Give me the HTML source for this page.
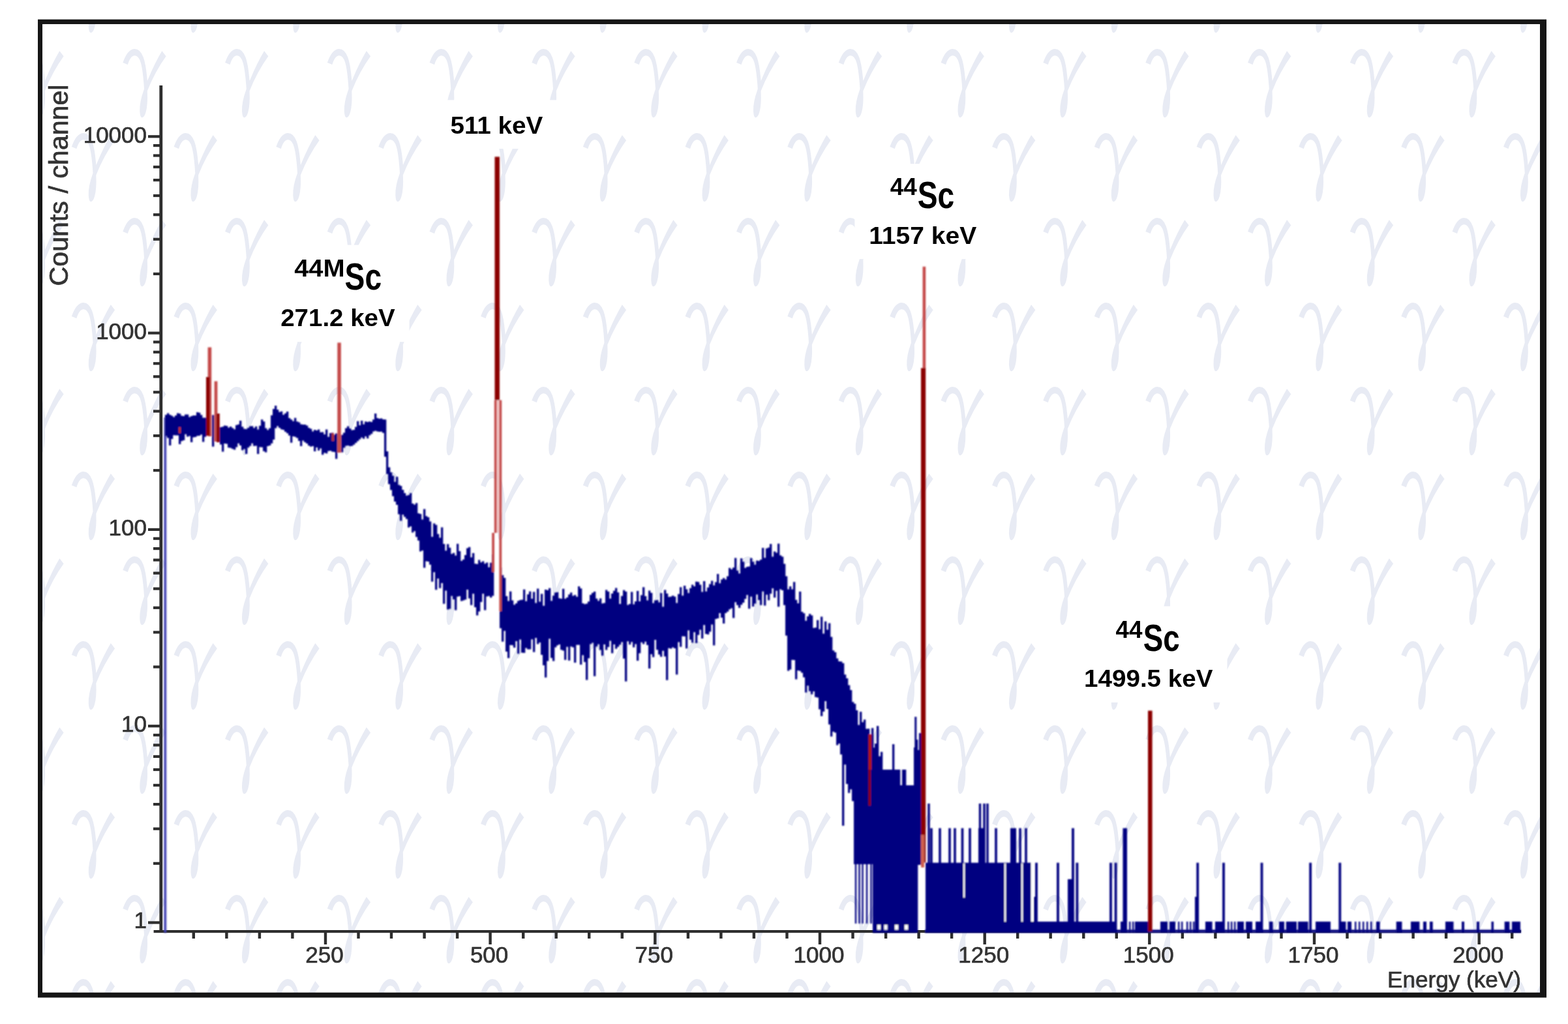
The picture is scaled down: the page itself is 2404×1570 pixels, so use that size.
<!DOCTYPE html>
<html lang="en"><head><meta charset="utf-8"><title>Gamma spectrum</title>
<style>
html,body{margin:0;padding:0;background:#fff;}
body{width:2404px;height:1570px;overflow:hidden;}
svg{display:block;}
</style></head><body>
<svg width="2404" height="1570" viewBox="0 0 2404 1570">
<defs><filter id="bl" filterUnits="userSpaceOnUse" x="0" y="0" width="2404" height="1570"><feGaussianBlur stdDeviation="1.3"/></filter><clipPath id="inner"><rect x="65" y="37" width="2296" height="1484.8"/></clipPath></defs>
<rect width="2404" height="1570" fill="#fff"/>
<g clip-path="url(#inner)" fill="#e8ebf4" stroke="#fff" stroke-width="2.8" font-family="IPAGothic,'DejaVu Serif',serif" font-size="169.8">
<text transform="translate(112.4 35.9) skewX(3.3) scale(0.691 1)" x="-34.2" y="0">γ</text>
<text transform="translate(269.2 35.9) skewX(3.3) scale(0.691 1)" x="-34.2" y="0">γ</text>
<text transform="translate(426 35.9) skewX(3.3) scale(0.691 1)" x="-34.2" y="0">γ</text>
<text transform="translate(582.8 35.9) skewX(3.3) scale(0.691 1)" x="-34.2" y="0">γ</text>
<text transform="translate(739.6 35.9) skewX(3.3) scale(0.691 1)" x="-34.2" y="0">γ</text>
<text transform="translate(896.4 35.9) skewX(3.3) scale(0.691 1)" x="-34.2" y="0">γ</text>
<text transform="translate(1053.2 35.9) skewX(3.3) scale(0.691 1)" x="-34.2" y="0">γ</text>
<text transform="translate(1210 35.9) skewX(3.3) scale(0.691 1)" x="-34.2" y="0">γ</text>
<text transform="translate(1366.8 35.9) skewX(3.3) scale(0.691 1)" x="-34.2" y="0">γ</text>
<text transform="translate(1523.6 35.9) skewX(3.3) scale(0.691 1)" x="-34.2" y="0">γ</text>
<text transform="translate(1680.4 35.9) skewX(3.3) scale(0.691 1)" x="-34.2" y="0">γ</text>
<text transform="translate(1837.2 35.9) skewX(3.3) scale(0.691 1)" x="-34.2" y="0">γ</text>
<text transform="translate(1994 35.9) skewX(3.3) scale(0.691 1)" x="-34.2" y="0">γ</text>
<text transform="translate(2150.8 35.9) skewX(3.3) scale(0.691 1)" x="-34.2" y="0">γ</text>
<text transform="translate(2307.6 35.9) skewX(3.3) scale(0.691 1)" x="-34.2" y="0">γ</text>
<text transform="translate(34 165.6) skewX(3.3) scale(0.691 1)" x="-34.2" y="0">γ</text>
<text transform="translate(190.8 165.6) skewX(3.3) scale(0.691 1)" x="-34.2" y="0">γ</text>
<text transform="translate(347.6 165.6) skewX(3.3) scale(0.691 1)" x="-34.2" y="0">γ</text>
<text transform="translate(504.4 165.6) skewX(3.3) scale(0.691 1)" x="-34.2" y="0">γ</text>
<text transform="translate(661.2 165.6) skewX(3.3) scale(0.691 1)" x="-34.2" y="0">γ</text>
<text transform="translate(818 165.6) skewX(3.3) scale(0.691 1)" x="-34.2" y="0">γ</text>
<text transform="translate(974.8 165.6) skewX(3.3) scale(0.691 1)" x="-34.2" y="0">γ</text>
<text transform="translate(1131.6 165.6) skewX(3.3) scale(0.691 1)" x="-34.2" y="0">γ</text>
<text transform="translate(1288.4 165.6) skewX(3.3) scale(0.691 1)" x="-34.2" y="0">γ</text>
<text transform="translate(1445.2 165.6) skewX(3.3) scale(0.691 1)" x="-34.2" y="0">γ</text>
<text transform="translate(1602 165.6) skewX(3.3) scale(0.691 1)" x="-34.2" y="0">γ</text>
<text transform="translate(1758.8 165.6) skewX(3.3) scale(0.691 1)" x="-34.2" y="0">γ</text>
<text transform="translate(1915.6 165.6) skewX(3.3) scale(0.691 1)" x="-34.2" y="0">γ</text>
<text transform="translate(2072.4 165.6) skewX(3.3) scale(0.691 1)" x="-34.2" y="0">γ</text>
<text transform="translate(2229.2 165.6) skewX(3.3) scale(0.691 1)" x="-34.2" y="0">γ</text>
<text transform="translate(112.4 295.3) skewX(3.3) scale(0.691 1)" x="-34.2" y="0">γ</text>
<text transform="translate(269.2 295.3) skewX(3.3) scale(0.691 1)" x="-34.2" y="0">γ</text>
<text transform="translate(426 295.3) skewX(3.3) scale(0.691 1)" x="-34.2" y="0">γ</text>
<text transform="translate(582.8 295.3) skewX(3.3) scale(0.691 1)" x="-34.2" y="0">γ</text>
<text transform="translate(739.6 295.3) skewX(3.3) scale(0.691 1)" x="-34.2" y="0">γ</text>
<text transform="translate(896.4 295.3) skewX(3.3) scale(0.691 1)" x="-34.2" y="0">γ</text>
<text transform="translate(1053.2 295.3) skewX(3.3) scale(0.691 1)" x="-34.2" y="0">γ</text>
<text transform="translate(1210 295.3) skewX(3.3) scale(0.691 1)" x="-34.2" y="0">γ</text>
<text transform="translate(1366.8 295.3) skewX(3.3) scale(0.691 1)" x="-34.2" y="0">γ</text>
<text transform="translate(1523.6 295.3) skewX(3.3) scale(0.691 1)" x="-34.2" y="0">γ</text>
<text transform="translate(1680.4 295.3) skewX(3.3) scale(0.691 1)" x="-34.2" y="0">γ</text>
<text transform="translate(1837.2 295.3) skewX(3.3) scale(0.691 1)" x="-34.2" y="0">γ</text>
<text transform="translate(1994 295.3) skewX(3.3) scale(0.691 1)" x="-34.2" y="0">γ</text>
<text transform="translate(2150.8 295.3) skewX(3.3) scale(0.691 1)" x="-34.2" y="0">γ</text>
<text transform="translate(2307.6 295.3) skewX(3.3) scale(0.691 1)" x="-34.2" y="0">γ</text>
<text transform="translate(34 425) skewX(3.3) scale(0.691 1)" x="-34.2" y="0">γ</text>
<text transform="translate(190.8 425) skewX(3.3) scale(0.691 1)" x="-34.2" y="0">γ</text>
<text transform="translate(347.6 425) skewX(3.3) scale(0.691 1)" x="-34.2" y="0">γ</text>
<text transform="translate(504.4 425) skewX(3.3) scale(0.691 1)" x="-34.2" y="0">γ</text>
<text transform="translate(661.2 425) skewX(3.3) scale(0.691 1)" x="-34.2" y="0">γ</text>
<text transform="translate(818 425) skewX(3.3) scale(0.691 1)" x="-34.2" y="0">γ</text>
<text transform="translate(974.8 425) skewX(3.3) scale(0.691 1)" x="-34.2" y="0">γ</text>
<text transform="translate(1131.6 425) skewX(3.3) scale(0.691 1)" x="-34.2" y="0">γ</text>
<text transform="translate(1288.4 425) skewX(3.3) scale(0.691 1)" x="-34.2" y="0">γ</text>
<text transform="translate(1445.2 425) skewX(3.3) scale(0.691 1)" x="-34.2" y="0">γ</text>
<text transform="translate(1602 425) skewX(3.3) scale(0.691 1)" x="-34.2" y="0">γ</text>
<text transform="translate(1758.8 425) skewX(3.3) scale(0.691 1)" x="-34.2" y="0">γ</text>
<text transform="translate(1915.6 425) skewX(3.3) scale(0.691 1)" x="-34.2" y="0">γ</text>
<text transform="translate(2072.4 425) skewX(3.3) scale(0.691 1)" x="-34.2" y="0">γ</text>
<text transform="translate(2229.2 425) skewX(3.3) scale(0.691 1)" x="-34.2" y="0">γ</text>
<text transform="translate(112.4 554.7) skewX(3.3) scale(0.691 1)" x="-34.2" y="0">γ</text>
<text transform="translate(269.2 554.7) skewX(3.3) scale(0.691 1)" x="-34.2" y="0">γ</text>
<text transform="translate(426 554.7) skewX(3.3) scale(0.691 1)" x="-34.2" y="0">γ</text>
<text transform="translate(582.8 554.7) skewX(3.3) scale(0.691 1)" x="-34.2" y="0">γ</text>
<text transform="translate(739.6 554.7) skewX(3.3) scale(0.691 1)" x="-34.2" y="0">γ</text>
<text transform="translate(896.4 554.7) skewX(3.3) scale(0.691 1)" x="-34.2" y="0">γ</text>
<text transform="translate(1053.2 554.7) skewX(3.3) scale(0.691 1)" x="-34.2" y="0">γ</text>
<text transform="translate(1210 554.7) skewX(3.3) scale(0.691 1)" x="-34.2" y="0">γ</text>
<text transform="translate(1366.8 554.7) skewX(3.3) scale(0.691 1)" x="-34.2" y="0">γ</text>
<text transform="translate(1523.6 554.7) skewX(3.3) scale(0.691 1)" x="-34.2" y="0">γ</text>
<text transform="translate(1680.4 554.7) skewX(3.3) scale(0.691 1)" x="-34.2" y="0">γ</text>
<text transform="translate(1837.2 554.7) skewX(3.3) scale(0.691 1)" x="-34.2" y="0">γ</text>
<text transform="translate(1994 554.7) skewX(3.3) scale(0.691 1)" x="-34.2" y="0">γ</text>
<text transform="translate(2150.8 554.7) skewX(3.3) scale(0.691 1)" x="-34.2" y="0">γ</text>
<text transform="translate(2307.6 554.7) skewX(3.3) scale(0.691 1)" x="-34.2" y="0">γ</text>
<text transform="translate(34 684.4) skewX(3.3) scale(0.691 1)" x="-34.2" y="0">γ</text>
<text transform="translate(190.8 684.4) skewX(3.3) scale(0.691 1)" x="-34.2" y="0">γ</text>
<text transform="translate(347.6 684.4) skewX(3.3) scale(0.691 1)" x="-34.2" y="0">γ</text>
<text transform="translate(504.4 684.4) skewX(3.3) scale(0.691 1)" x="-34.2" y="0">γ</text>
<text transform="translate(661.2 684.4) skewX(3.3) scale(0.691 1)" x="-34.2" y="0">γ</text>
<text transform="translate(818 684.4) skewX(3.3) scale(0.691 1)" x="-34.2" y="0">γ</text>
<text transform="translate(974.8 684.4) skewX(3.3) scale(0.691 1)" x="-34.2" y="0">γ</text>
<text transform="translate(1131.6 684.4) skewX(3.3) scale(0.691 1)" x="-34.2" y="0">γ</text>
<text transform="translate(1288.4 684.4) skewX(3.3) scale(0.691 1)" x="-34.2" y="0">γ</text>
<text transform="translate(1445.2 684.4) skewX(3.3) scale(0.691 1)" x="-34.2" y="0">γ</text>
<text transform="translate(1602 684.4) skewX(3.3) scale(0.691 1)" x="-34.2" y="0">γ</text>
<text transform="translate(1758.8 684.4) skewX(3.3) scale(0.691 1)" x="-34.2" y="0">γ</text>
<text transform="translate(1915.6 684.4) skewX(3.3) scale(0.691 1)" x="-34.2" y="0">γ</text>
<text transform="translate(2072.4 684.4) skewX(3.3) scale(0.691 1)" x="-34.2" y="0">γ</text>
<text transform="translate(2229.2 684.4) skewX(3.3) scale(0.691 1)" x="-34.2" y="0">γ</text>
<text transform="translate(112.4 814.1) skewX(3.3) scale(0.691 1)" x="-34.2" y="0">γ</text>
<text transform="translate(269.2 814.1) skewX(3.3) scale(0.691 1)" x="-34.2" y="0">γ</text>
<text transform="translate(426 814.1) skewX(3.3) scale(0.691 1)" x="-34.2" y="0">γ</text>
<text transform="translate(582.8 814.1) skewX(3.3) scale(0.691 1)" x="-34.2" y="0">γ</text>
<text transform="translate(739.6 814.1) skewX(3.3) scale(0.691 1)" x="-34.2" y="0">γ</text>
<text transform="translate(896.4 814.1) skewX(3.3) scale(0.691 1)" x="-34.2" y="0">γ</text>
<text transform="translate(1053.2 814.1) skewX(3.3) scale(0.691 1)" x="-34.2" y="0">γ</text>
<text transform="translate(1210 814.1) skewX(3.3) scale(0.691 1)" x="-34.2" y="0">γ</text>
<text transform="translate(1366.8 814.1) skewX(3.3) scale(0.691 1)" x="-34.2" y="0">γ</text>
<text transform="translate(1523.6 814.1) skewX(3.3) scale(0.691 1)" x="-34.2" y="0">γ</text>
<text transform="translate(1680.4 814.1) skewX(3.3) scale(0.691 1)" x="-34.2" y="0">γ</text>
<text transform="translate(1837.2 814.1) skewX(3.3) scale(0.691 1)" x="-34.2" y="0">γ</text>
<text transform="translate(1994 814.1) skewX(3.3) scale(0.691 1)" x="-34.2" y="0">γ</text>
<text transform="translate(2150.8 814.1) skewX(3.3) scale(0.691 1)" x="-34.2" y="0">γ</text>
<text transform="translate(2307.6 814.1) skewX(3.3) scale(0.691 1)" x="-34.2" y="0">γ</text>
<text transform="translate(34 943.8) skewX(3.3) scale(0.691 1)" x="-34.2" y="0">γ</text>
<text transform="translate(190.8 943.8) skewX(3.3) scale(0.691 1)" x="-34.2" y="0">γ</text>
<text transform="translate(347.6 943.8) skewX(3.3) scale(0.691 1)" x="-34.2" y="0">γ</text>
<text transform="translate(504.4 943.8) skewX(3.3) scale(0.691 1)" x="-34.2" y="0">γ</text>
<text transform="translate(661.2 943.8) skewX(3.3) scale(0.691 1)" x="-34.2" y="0">γ</text>
<text transform="translate(818 943.8) skewX(3.3) scale(0.691 1)" x="-34.2" y="0">γ</text>
<text transform="translate(974.8 943.8) skewX(3.3) scale(0.691 1)" x="-34.2" y="0">γ</text>
<text transform="translate(1131.6 943.8) skewX(3.3) scale(0.691 1)" x="-34.2" y="0">γ</text>
<text transform="translate(1288.4 943.8) skewX(3.3) scale(0.691 1)" x="-34.2" y="0">γ</text>
<text transform="translate(1445.2 943.8) skewX(3.3) scale(0.691 1)" x="-34.2" y="0">γ</text>
<text transform="translate(1602 943.8) skewX(3.3) scale(0.691 1)" x="-34.2" y="0">γ</text>
<text transform="translate(1758.8 943.8) skewX(3.3) scale(0.691 1)" x="-34.2" y="0">γ</text>
<text transform="translate(1915.6 943.8) skewX(3.3) scale(0.691 1)" x="-34.2" y="0">γ</text>
<text transform="translate(2072.4 943.8) skewX(3.3) scale(0.691 1)" x="-34.2" y="0">γ</text>
<text transform="translate(2229.2 943.8) skewX(3.3) scale(0.691 1)" x="-34.2" y="0">γ</text>
<text transform="translate(112.4 1073.5) skewX(3.3) scale(0.691 1)" x="-34.2" y="0">γ</text>
<text transform="translate(269.2 1073.5) skewX(3.3) scale(0.691 1)" x="-34.2" y="0">γ</text>
<text transform="translate(426 1073.5) skewX(3.3) scale(0.691 1)" x="-34.2" y="0">γ</text>
<text transform="translate(582.8 1073.5) skewX(3.3) scale(0.691 1)" x="-34.2" y="0">γ</text>
<text transform="translate(739.6 1073.5) skewX(3.3) scale(0.691 1)" x="-34.2" y="0">γ</text>
<text transform="translate(896.4 1073.5) skewX(3.3) scale(0.691 1)" x="-34.2" y="0">γ</text>
<text transform="translate(1053.2 1073.5) skewX(3.3) scale(0.691 1)" x="-34.2" y="0">γ</text>
<text transform="translate(1210 1073.5) skewX(3.3) scale(0.691 1)" x="-34.2" y="0">γ</text>
<text transform="translate(1366.8 1073.5) skewX(3.3) scale(0.691 1)" x="-34.2" y="0">γ</text>
<text transform="translate(1523.6 1073.5) skewX(3.3) scale(0.691 1)" x="-34.2" y="0">γ</text>
<text transform="translate(1680.4 1073.5) skewX(3.3) scale(0.691 1)" x="-34.2" y="0">γ</text>
<text transform="translate(1837.2 1073.5) skewX(3.3) scale(0.691 1)" x="-34.2" y="0">γ</text>
<text transform="translate(1994 1073.5) skewX(3.3) scale(0.691 1)" x="-34.2" y="0">γ</text>
<text transform="translate(2150.8 1073.5) skewX(3.3) scale(0.691 1)" x="-34.2" y="0">γ</text>
<text transform="translate(2307.6 1073.5) skewX(3.3) scale(0.691 1)" x="-34.2" y="0">γ</text>
<text transform="translate(34 1203.2) skewX(3.3) scale(0.691 1)" x="-34.2" y="0">γ</text>
<text transform="translate(190.8 1203.2) skewX(3.3) scale(0.691 1)" x="-34.2" y="0">γ</text>
<text transform="translate(347.6 1203.2) skewX(3.3) scale(0.691 1)" x="-34.2" y="0">γ</text>
<text transform="translate(504.4 1203.2) skewX(3.3) scale(0.691 1)" x="-34.2" y="0">γ</text>
<text transform="translate(661.2 1203.2) skewX(3.3) scale(0.691 1)" x="-34.2" y="0">γ</text>
<text transform="translate(818 1203.2) skewX(3.3) scale(0.691 1)" x="-34.2" y="0">γ</text>
<text transform="translate(974.8 1203.2) skewX(3.3) scale(0.691 1)" x="-34.2" y="0">γ</text>
<text transform="translate(1131.6 1203.2) skewX(3.3) scale(0.691 1)" x="-34.2" y="0">γ</text>
<text transform="translate(1288.4 1203.2) skewX(3.3) scale(0.691 1)" x="-34.2" y="0">γ</text>
<text transform="translate(1445.2 1203.2) skewX(3.3) scale(0.691 1)" x="-34.2" y="0">γ</text>
<text transform="translate(1602 1203.2) skewX(3.3) scale(0.691 1)" x="-34.2" y="0">γ</text>
<text transform="translate(1758.8 1203.2) skewX(3.3) scale(0.691 1)" x="-34.2" y="0">γ</text>
<text transform="translate(1915.6 1203.2) skewX(3.3) scale(0.691 1)" x="-34.2" y="0">γ</text>
<text transform="translate(2072.4 1203.2) skewX(3.3) scale(0.691 1)" x="-34.2" y="0">γ</text>
<text transform="translate(2229.2 1203.2) skewX(3.3) scale(0.691 1)" x="-34.2" y="0">γ</text>
<text transform="translate(112.4 1332.9) skewX(3.3) scale(0.691 1)" x="-34.2" y="0">γ</text>
<text transform="translate(269.2 1332.9) skewX(3.3) scale(0.691 1)" x="-34.2" y="0">γ</text>
<text transform="translate(426 1332.9) skewX(3.3) scale(0.691 1)" x="-34.2" y="0">γ</text>
<text transform="translate(582.8 1332.9) skewX(3.3) scale(0.691 1)" x="-34.2" y="0">γ</text>
<text transform="translate(739.6 1332.9) skewX(3.3) scale(0.691 1)" x="-34.2" y="0">γ</text>
<text transform="translate(896.4 1332.9) skewX(3.3) scale(0.691 1)" x="-34.2" y="0">γ</text>
<text transform="translate(1053.2 1332.9) skewX(3.3) scale(0.691 1)" x="-34.2" y="0">γ</text>
<text transform="translate(1210 1332.9) skewX(3.3) scale(0.691 1)" x="-34.2" y="0">γ</text>
<text transform="translate(1366.8 1332.9) skewX(3.3) scale(0.691 1)" x="-34.2" y="0">γ</text>
<text transform="translate(1523.6 1332.9) skewX(3.3) scale(0.691 1)" x="-34.2" y="0">γ</text>
<text transform="translate(1680.4 1332.9) skewX(3.3) scale(0.691 1)" x="-34.2" y="0">γ</text>
<text transform="translate(1837.2 1332.9) skewX(3.3) scale(0.691 1)" x="-34.2" y="0">γ</text>
<text transform="translate(1994 1332.9) skewX(3.3) scale(0.691 1)" x="-34.2" y="0">γ</text>
<text transform="translate(2150.8 1332.9) skewX(3.3) scale(0.691 1)" x="-34.2" y="0">γ</text>
<text transform="translate(2307.6 1332.9) skewX(3.3) scale(0.691 1)" x="-34.2" y="0">γ</text>
<text transform="translate(34 1462.6) skewX(3.3) scale(0.691 1)" x="-34.2" y="0">γ</text>
<text transform="translate(190.8 1462.6) skewX(3.3) scale(0.691 1)" x="-34.2" y="0">γ</text>
<text transform="translate(347.6 1462.6) skewX(3.3) scale(0.691 1)" x="-34.2" y="0">γ</text>
<text transform="translate(504.4 1462.6) skewX(3.3) scale(0.691 1)" x="-34.2" y="0">γ</text>
<text transform="translate(661.2 1462.6) skewX(3.3) scale(0.691 1)" x="-34.2" y="0">γ</text>
<text transform="translate(818 1462.6) skewX(3.3) scale(0.691 1)" x="-34.2" y="0">γ</text>
<text transform="translate(974.8 1462.6) skewX(3.3) scale(0.691 1)" x="-34.2" y="0">γ</text>
<text transform="translate(1131.6 1462.6) skewX(3.3) scale(0.691 1)" x="-34.2" y="0">γ</text>
<text transform="translate(1288.4 1462.6) skewX(3.3) scale(0.691 1)" x="-34.2" y="0">γ</text>
<text transform="translate(1445.2 1462.6) skewX(3.3) scale(0.691 1)" x="-34.2" y="0">γ</text>
<text transform="translate(1602 1462.6) skewX(3.3) scale(0.691 1)" x="-34.2" y="0">γ</text>
<text transform="translate(1758.8 1462.6) skewX(3.3) scale(0.691 1)" x="-34.2" y="0">γ</text>
<text transform="translate(1915.6 1462.6) skewX(3.3) scale(0.691 1)" x="-34.2" y="0">γ</text>
<text transform="translate(2072.4 1462.6) skewX(3.3) scale(0.691 1)" x="-34.2" y="0">γ</text>
<text transform="translate(2229.2 1462.6) skewX(3.3) scale(0.691 1)" x="-34.2" y="0">γ</text>
<text transform="translate(112.4 1592.3) skewX(3.3) scale(0.691 1)" x="-34.2" y="0">γ</text>
<text transform="translate(269.2 1592.3) skewX(3.3) scale(0.691 1)" x="-34.2" y="0">γ</text>
<text transform="translate(426 1592.3) skewX(3.3) scale(0.691 1)" x="-34.2" y="0">γ</text>
<text transform="translate(582.8 1592.3) skewX(3.3) scale(0.691 1)" x="-34.2" y="0">γ</text>
<text transform="translate(739.6 1592.3) skewX(3.3) scale(0.691 1)" x="-34.2" y="0">γ</text>
<text transform="translate(896.4 1592.3) skewX(3.3) scale(0.691 1)" x="-34.2" y="0">γ</text>
<text transform="translate(1053.2 1592.3) skewX(3.3) scale(0.691 1)" x="-34.2" y="0">γ</text>
<text transform="translate(1210 1592.3) skewX(3.3) scale(0.691 1)" x="-34.2" y="0">γ</text>
<text transform="translate(1366.8 1592.3) skewX(3.3) scale(0.691 1)" x="-34.2" y="0">γ</text>
<text transform="translate(1523.6 1592.3) skewX(3.3) scale(0.691 1)" x="-34.2" y="0">γ</text>
<text transform="translate(1680.4 1592.3) skewX(3.3) scale(0.691 1)" x="-34.2" y="0">γ</text>
<text transform="translate(1837.2 1592.3) skewX(3.3) scale(0.691 1)" x="-34.2" y="0">γ</text>
<text transform="translate(1994 1592.3) skewX(3.3) scale(0.691 1)" x="-34.2" y="0">γ</text>
<text transform="translate(2150.8 1592.3) skewX(3.3) scale(0.691 1)" x="-34.2" y="0">γ</text>
<text transform="translate(2307.6 1592.3) skewX(3.3) scale(0.691 1)" x="-34.2" y="0">γ</text>
</g>
<rect x="650" y="153.4" width="224" height="74.7" fill="#fff"/>
<rect x="409" y="375.6" width="218.6" height="148.6" fill="#fff"/>
<rect x="1310.4" y="251.2" width="204.6" height="146" fill="#fff"/>
<rect x="1640" y="929.5" width="241.5" height="147.5" fill="#fff"/>
<g fill="#2e2e2e">
<rect x="244.4" y="131" width="4.8" height="1299"/>
<rect x="235.6" y="1426" width="2096.4" height="4.2"/>
<rect x="227" y="1412.4" width="19" height="4.2"/>
<rect x="235" y="1321.7" width="11" height="4.2"/>
<rect x="235" y="1268.6" width="11" height="4.2"/>
<rect x="235" y="1231" width="11" height="4.2"/>
<rect x="235" y="1201.8" width="11" height="4.2"/>
<rect x="235" y="1177.9" width="11" height="4.2"/>
<rect x="235" y="1157.8" width="11" height="4.2"/>
<rect x="235" y="1140.3" width="11" height="4.2"/>
<rect x="235" y="1124.9" width="11" height="4.2"/>
<rect x="227" y="1111.1" width="19" height="4.2"/>
<rect x="235" y="1020.4" width="11" height="4.2"/>
<rect x="235" y="967.3" width="11" height="4.2"/>
<rect x="235" y="929.7" width="11" height="4.2"/>
<rect x="235" y="900.5" width="11" height="4.2"/>
<rect x="235" y="876.6" width="11" height="4.2"/>
<rect x="235" y="856.5" width="11" height="4.2"/>
<rect x="235" y="839" width="11" height="4.2"/>
<rect x="235" y="823.6" width="11" height="4.2"/>
<rect x="227" y="809.8" width="19" height="4.2"/>
<rect x="235" y="719.1" width="11" height="4.2"/>
<rect x="235" y="666" width="11" height="4.2"/>
<rect x="235" y="628.4" width="11" height="4.2"/>
<rect x="235" y="599.2" width="11" height="4.2"/>
<rect x="235" y="575.3" width="11" height="4.2"/>
<rect x="235" y="555.2" width="11" height="4.2"/>
<rect x="235" y="537.7" width="11" height="4.2"/>
<rect x="235" y="522.3" width="11" height="4.2"/>
<rect x="227" y="508.5" width="19" height="4.2"/>
<rect x="235" y="417.8" width="11" height="4.2"/>
<rect x="235" y="364.7" width="11" height="4.2"/>
<rect x="235" y="327.1" width="11" height="4.2"/>
<rect x="235" y="297.9" width="11" height="4.2"/>
<rect x="235" y="274" width="11" height="4.2"/>
<rect x="235" y="253.9" width="11" height="4.2"/>
<rect x="235" y="236.4" width="11" height="4.2"/>
<rect x="235" y="221" width="11" height="4.2"/>
<rect x="227" y="207.2" width="19" height="4.2"/>
<rect x="294.6" y="1429" width="4.4" height="10"/>
<rect x="345.2" y="1429" width="4.4" height="10"/>
<rect x="395.7" y="1429" width="4.4" height="10"/>
<rect x="446.2" y="1429" width="4.4" height="10"/>
<rect x="496.8" y="1429" width="4.4" height="19"/>
<rect x="547.3" y="1429" width="4.4" height="10"/>
<rect x="597.8" y="1429" width="4.4" height="10"/>
<rect x="648.4" y="1429" width="4.4" height="10"/>
<rect x="698.9" y="1429" width="4.4" height="10"/>
<rect x="749.4" y="1429" width="4.4" height="19"/>
<rect x="800" y="1429" width="4.4" height="10"/>
<rect x="850.5" y="1429" width="4.4" height="10"/>
<rect x="901" y="1429" width="4.4" height="10"/>
<rect x="951.6" y="1429" width="4.4" height="10"/>
<rect x="1002.1" y="1429" width="4.4" height="19"/>
<rect x="1052.7" y="1429" width="4.4" height="10"/>
<rect x="1103.2" y="1429" width="4.4" height="10"/>
<rect x="1153.7" y="1429" width="4.4" height="10"/>
<rect x="1204.3" y="1429" width="4.4" height="10"/>
<rect x="1254.8" y="1429" width="4.4" height="19"/>
<rect x="1305.3" y="1429" width="4.4" height="10"/>
<rect x="1355.9" y="1429" width="4.4" height="10"/>
<rect x="1406.4" y="1429" width="4.4" height="10"/>
<rect x="1456.9" y="1429" width="4.4" height="10"/>
<rect x="1507.5" y="1429" width="4.4" height="19"/>
<rect x="1558" y="1429" width="4.4" height="10"/>
<rect x="1608.5" y="1429" width="4.4" height="10"/>
<rect x="1659.1" y="1429" width="4.4" height="10"/>
<rect x="1709.6" y="1429" width="4.4" height="10"/>
<rect x="1760.1" y="1429" width="4.4" height="19"/>
<rect x="1810.7" y="1429" width="4.4" height="10"/>
<rect x="1861.2" y="1429" width="4.4" height="10"/>
<rect x="1911.7" y="1429" width="4.4" height="10"/>
<rect x="1962.3" y="1429" width="4.4" height="10"/>
<rect x="2012.8" y="1429" width="4.4" height="19"/>
<rect x="2063.3" y="1429" width="4.4" height="10"/>
<rect x="2113.9" y="1429" width="4.4" height="10"/>
<rect x="2164.4" y="1429" width="4.4" height="10"/>
<rect x="2214.9" y="1429" width="4.4" height="10"/>
<rect x="2265.5" y="1429" width="4.4" height="19"/>
<rect x="2316" y="1429" width="4.4" height="10"/>
</g>
<g fill="#333" stroke="#333" stroke-width="0.7" font-family="'Liberation Sans',sans-serif" font-size="35">
<text x="225" y="218.5" text-anchor="end">10000</text>
<text x="225" y="519.8" text-anchor="end">1000</text>
<text x="225" y="821.1" text-anchor="end">100</text>
<text x="225" y="1122.4" text-anchor="end">10</text>
<text x="225" y="1422.5" text-anchor="end">1</text>
<text x="497.5" y="1475.8" text-anchor="middle">250</text>
<text x="750.1" y="1475.8" text-anchor="middle">500</text>
<text x="1002.8" y="1475.8" text-anchor="middle">750</text>
<text x="1255.5" y="1475.8" text-anchor="middle">1000</text>
<text x="1508.2" y="1475.8" text-anchor="middle">1250</text>
<text x="1760.8" y="1475.8" text-anchor="middle">1500</text>
<text x="2013.5" y="1475.8" text-anchor="middle">1750</text>
<text x="2266.2" y="1475.8" text-anchor="middle">2000</text>
<text x="2127" y="1513.8" font-size="35" textLength="205" lengthAdjust="spacingAndGlyphs">Energy (keV)</text>
<text transform="translate(103.5 438.5) rotate(-90)" x="0" y="0" font-size="40" textLength="309" lengthAdjust="spacingAndGlyphs">Counts / channel</text>
</g>
<g filter="url(#bl)">
<rect x="251.4" y="640" width="3.8" height="790" fill="#4545b5"/>
<rect x="1338" y="1425.4" width="66.5" height="4.8" fill="#1c1c92"/>
<rect x="1418" y="1425.4" width="914" height="4.8" fill="#1c1c92"/>
<g fill="#000080">
<path d="M253 636h3.3v32.5h-3.3zM256 633.6h3.3v37.8h-3.3zM259 636h3.3v47h-3.3zM262 637.4h3.3v35.6h-3.3zM265 639.5h3.3v27.8h-3.3zM268 636.9h3.3v30.7h-3.3zM271 633.5h3.3v33.9h-3.3zM274 634.3h3.3v46.7h-3.3zM277 637.4h3.3v38.8h-3.3zM280 638h3.3v37h-3.3zM283 635.4h3.3v30.3h-3.3zM286 635.6h3.3v34h-3.3zM289 639.6h3.3v29h-3.3zM292 638h3.3v40h-3.3zM295 637.1h3.3v33.4h-3.3zM298 637h3.3v32.9h-3.3zM301 631.9h3.3v36.3h-3.3zM304 632.8h3.3v35.2h-3.3zM307 636.2h3.3v30.1h-3.3zM310 640.6h3.3v37h-3.3zM313 640.6h3.3v29.1h-3.3zM325 636.2h3.3v48.5h-3.3zM337 654.9h3.3v26.7h-3.3zM340 654.2h3.3v38.3h-3.3zM343 652.6h3.3v27.4h-3.3zM346 653.1h3.3v27.4h-3.3zM349 655.8h3.3v30.4h-3.3zM352 654h3.3v32.8h-3.3zM355 656.3h3.3v32h-3.3zM358 658.2h3.3v31.4h-3.3zM361 651.8h3.3v33.6h-3.3zM364 650.8h3.3v29h-3.3zM367 645.1h3.3v37.9h-3.3zM370 654.3h3.3v36h-3.3zM373 657.6h3.3v30.8h-3.3zM376 658h3.3v37.9h-3.3zM379 656.1h3.3v30.2h-3.3zM382 653.5h3.3v30.3h-3.3zM385 653.2h3.3v26.5h-3.3zM388 656.2h3.3v27.6h-3.3zM391 653.7h3.3v29.7h-3.3zM394 658.5h3.3v37.4h-3.3zM397 652.8h3.3v32.8h-3.3zM400 643.3h3.3v42.4h-3.3zM403 646.3h3.3v45.4h-3.3zM406 656.6h3.3v36.8h-3.3zM409 659.3h3.3v24.8h-3.3zM412 656.4h3.3v26.5h-3.3zM415 636.7h3.3v43h-3.3zM418 627h3.3v47.1h-3.3zM421 622.1h3.3v34.5h-3.3zM424 627.9h3.3v25.3h-3.3zM427 631.8h3.3v24.1h-3.3zM430 630.7h3.3v27.6h-3.3zM433 636.1h3.3v23h-3.3zM436 633.8h3.3v28.3h-3.3zM439 630.9h3.3v33.4h-3.3zM442 640.9h3.3v26.8h-3.3zM445 643.2h3.3v35.6h-3.3zM448 645.8h3.3v23.1h-3.3zM451 640.7h3.3v29h-3.3zM454 646.3h3.3v25.1h-3.3zM457 647.6h3.3v28.3h-3.3zM460 650.5h3.3v33.4h-3.3zM463 651h3.3v24.5h-3.3zM466 651h3.3v26.9h-3.3zM469 652.5h3.3v27.6h-3.3zM472 655.9h3.3v27.4h-3.3zM475 657.5h3.3v27.2h-3.3zM478 661.4h3.3v22.7h-3.3zM481 659.1h3.3v32.8h-3.3zM484 659.9h3.3v26.1h-3.3zM487 658.4h3.3v32.4h-3.3zM490 662.7h3.3v24.8h-3.3zM493 662.5h3.3v34.8h-3.3zM496 665.9h3.3v28.4h-3.3zM499 658.4h3.3v36.9h-3.3zM502 669.8h3.3v21.8h-3.3zM505 663.9h3.3v27.1h-3.3zM508 663.4h3.3v29.1h-3.3zM511 666.6h3.3v26.5h-3.3zM514 664.6h3.3v39h-3.3zM523 666.7h3.3v26.9h-3.3zM526 663.5h3.3v23h-3.3zM529 656.4h3.3v27.1h-3.3zM532 653.5h3.3v29.4h-3.3zM535 656.9h3.3v27.1h-3.3zM538 659.5h3.3v24.2h-3.3zM541 658.9h3.3v22.9h-3.3zM544 654.4h3.3v24.6h-3.3zM547 645.8h3.3v30.4h-3.3zM550 652h3.3v21.5h-3.3zM553 645.1h3.3v25.6h-3.3zM556 650.5h3.3v22.3h-3.3zM559 646.3h3.3v22.7h-3.3zM562 647.1h3.3v25.1h-3.3zM565 646.3h3.3v21.3h-3.3zM568 647h3.3v18.3h-3.3zM571 643.3h3.3v18.3h-3.3zM574 633.9h3.3v26.6h-3.3zM577 641.1h3.3v20.4h-3.3zM580 641.9h3.3v20.2h-3.3zM583 641.4h3.3v20.3h-3.3zM586 643h3.3v20.7h-3.3zM589 643.3h3.3v57h-3.3zM592 692h3.3v34.8h-3.3zM595 716.4h3.3v25.9h-3.3zM598 724.3h3.3v27h-3.3zM601 729.4h3.3v31.3h-3.3zM604 738.8h3.3v30.2h-3.3zM607 731h3.3v43.1h-3.3zM610 743.4h3.3v45h-3.3zM613 744.9h3.3v53.7h-3.3zM616 751h3.3v37.9h-3.3zM619 756.1h3.3v36.5h-3.3zM622 760.1h3.3v35.7h-3.3zM625 759h3.3v49.8h-3.3zM628 756h3.3v50.9h-3.3zM631 772h3.3v44.5h-3.3zM634 773.8h3.3v40.5h-3.3zM637 771.3h3.3v51.9h-3.3zM640 787.1h3.3v41.7h-3.3zM643 788.1h3.3v57.4h-3.3zM646 796.5h3.3v47.6h-3.3zM649 780.4h3.3v90.1h-3.3zM652 791.2h3.3v69.3h-3.3zM655 793h3.3v68.1h-3.3zM658 799.5h3.3v66.2h-3.3zM661 823h3.3v68.7h-3.3zM664 802.4h3.3v74.8h-3.3zM667 804.8h3.3v99.4h-3.3zM670 818.8h3.3v68.2h-3.3zM673 824.5h3.3v77.2h-3.3zM676 808.6h3.3v85.5h-3.3zM679 834.1h3.3v91.6h-3.3zM682 844.3h3.3v61.2h-3.3zM685 834.3h3.3v100.2h-3.3zM688 839.7h3.3v93.9h-3.3zM691 849.2h3.3v64.5h-3.3zM694 847.7h3.3v71.4h-3.3zM697 851.8h3.3v83.6h-3.3zM700 833.7h3.3v81.1h-3.3zM703 845.1h3.3v68.8h-3.3zM706 860h3.3v61.6h-3.3zM709 857.8h3.3v62.8h-3.3zM712 850.9h3.3v68.3h-3.3zM715 840.4h3.3v63.5h-3.3zM718 838.8h3.3v78.8h-3.3zM721 854.4h3.3v73.4h-3.3zM724 848.1h3.3v62.1h-3.3zM727 864.3h3.3v66.6h-3.3zM730 864.7h3.3v78.8h-3.3zM733 858.6h3.3v79h-3.3zM736 862.2h3.3v60.8h-3.3zM739 860.6h3.3v49.6h-3.3zM742 864.3h3.3v71.3h-3.3zM745 862.4h3.3v52h-3.3zM748 869.7h3.3v44h-3.3zM751 862.7h3.3v53.5h-3.3zM754 850h3.3v63.5h-3.3zM766 869.9h3.3v93.3h-3.3zM769 881.8h3.3v101.9h-3.3zM772 886h3.3v81.2h-3.3zM775 914.1h3.3v84.9h-3.3zM778 921.6h3.3v87.5h-3.3zM781 906.8h3.3v82.3h-3.3zM784 920.4h3.3v68.9h-3.3zM787 927.2h3.3v65.7h-3.3zM790 924.9h3.3v58.1h-3.3zM793 921.2h3.3v81.1h-3.3zM796 920.1h3.3v60.5h-3.3zM799 919.5h3.3v81.3h-3.3zM802 903.7h3.3v97.2h-3.3zM805 921.8h3.3v71.7h-3.3zM808 911.2h3.3v84.4h-3.3zM811 906.7h3.3v88.9h-3.3zM814 918.1h3.3v62.1h-3.3zM817 907.5h3.3v92.2h-3.3zM820 924.4h3.3v53.5h-3.3zM823 902.6h3.3v84.8h-3.3zM826 922.6h3.3v62.4h-3.3zM829 910.4h3.3v93.5h-3.3zM832 928.7h3.3v91.3h-3.3zM835 904.1h3.3v134.7h-3.3zM838 905h3.3v108.4h-3.3zM841 901.8h3.3v77.4h-3.3zM844 921.2h3.3v87.5h-3.3zM847 913.2h3.3v100.3h-3.3zM850 908.4h3.3v84h-3.3zM853 908h3.3v81.6h-3.3zM856 917.2h3.3v70.8h-3.3zM859 918.1h3.3v78.1h-3.3zM862 902.7h3.3v94.9h-3.3zM865 917.9h3.3v93.8h-3.3zM868 915.9h3.3v75.8h-3.3zM871 911.4h3.3v101.3h-3.3zM874 908.6h3.3v82.7h-3.3zM877 913.5h3.3v79.1h-3.3zM880 912.3h3.3v103.6h-3.3zM883 915h3.3v73.7h-3.3zM886 898.9h3.3v89.9h-3.3zM889 902.2h3.3v116.7h-3.3zM892 924.9h3.3v79.6h-3.3zM895 926.3h3.3v88.7h-3.3zM898 925.6h3.3v116.9h-3.3zM901 922.2h3.3v87.1h-3.3zM904 912h3.3v75.5h-3.3zM907 909h3.3v76.6h-3.3zM910 907h3.3v129.8h-3.3zM913 917.7h3.3v73.5h-3.3zM916 921.3h3.3v66.5h-3.3zM919 917.4h3.3v79.1h-3.3zM922 925.3h3.3v79.9h-3.3zM925 924.4h3.3v63.6h-3.3zM928 904.5h3.3v92h-3.3zM931 907h3.3v84.9h-3.3zM934 917.8h3.3v64.8h-3.3zM937 910h3.3v91.6h-3.3zM940 905.8h3.3v82.2h-3.3zM943 901.5h3.3v93.2h-3.3zM946 908.3h3.3v83.5h-3.3zM949 925.9h3.3v62.7h-3.3zM952 913.7h3.3v70.9h-3.3zM955 904.7h3.3v105h-3.3zM958 907.1h3.3v137.6h-3.3zM961 927.4h3.3v55.9h-3.3zM964 926.1h3.3v62.2h-3.3zM967 907.6h3.3v76.7h-3.3zM970 926.4h3.3v66h-3.3zM973 922.1h3.3v65.3h-3.3zM976 905.9h3.3v107h-3.3zM979 922.1h3.3v79.5h-3.3zM982 912.5h3.3v72.2h-3.3zM985 900.3h3.3v87.3h-3.3zM988 913.9h3.3v69.9h-3.3zM991 920.6h3.3v68.4h-3.3zM994 905.5h3.3v119.5h-3.3zM997 909.1h3.3v94h-3.3zM1000 924.8h3.3v82.6h-3.3zM1003 920.5h3.3v60.4h-3.3zM1006 920.1h3.3v76.1h-3.3zM1009 923.6h3.3v80h-3.3zM1012 909.3h3.3v97.6h-3.3zM1015 930.3h3.3v67.4h-3.3zM1018 904.6h3.3v102h-3.3zM1021 909.9h3.3v132.9h-3.3zM1024 915.3h3.3v78.5h-3.3zM1027 914.7h3.3v79.8h-3.3zM1030 913.3h3.3v79.1h-3.3zM1033 914.8h3.3v79.3h-3.3zM1036 924.5h3.3v109.7h-3.3zM1039 910.8h3.3v73.6h-3.3zM1042 900.2h3.3v91.6h-3.3zM1045 913.2h3.3v62.4h-3.3zM1048 897.9h3.3v77.9h-3.3zM1051 903.5h3.3v90.8h-3.3zM1054 909.2h3.3v57.2h-3.3zM1057 901.8h3.3v78.9h-3.3zM1060 896.6h3.3v88.9h-3.3zM1063 899.1h3.3v70.2h-3.3zM1066 891.8h3.3v94.1h-3.3zM1069 892.2h3.3v81.3h-3.3zM1072 896.4h3.3v69h-3.3zM1075 907.5h3.3v71.6h-3.3zM1078 891.1h3.3v67.2h-3.3zM1081 906.8h3.3v65.1h-3.3zM1084 900.8h3.3v71.9h-3.3zM1087 895.5h3.3v73h-3.3zM1090 890.6h3.3v67h-3.3zM1093 897.4h3.3v92.2h-3.3zM1096 892.5h3.3v56.6h-3.3zM1099 880.1h3.3v67.9h-3.3zM1102 894.3h3.3v45.7h-3.3zM1105 888.5h3.3v58.6h-3.3zM1108 886.2h3.3v69.8h-3.3zM1111 888.5h3.3v51.4h-3.3zM1114 883.4h3.3v54.4h-3.3zM1117 870.8h3.3v63.5h-3.3zM1120 872.9h3.3v59.6h-3.3zM1123 870.2h3.3v77.4h-3.3zM1126 855.5h3.3v67.8h-3.3zM1129 874.8h3.3v52.9h-3.3zM1132 879.2h3.3v52.8h-3.3zM1135 856h3.3v71.3h-3.3zM1138 861.2h3.3v62.7h-3.3zM1141 870.7h3.3v47.5h-3.3zM1144 869h3.3v43.3h-3.3zM1147 868.5h3.3v64.7h-3.3zM1150 855.8h3.3v59h-3.3zM1153 861.3h3.3v68.6h-3.3zM1156 865.7h3.3v59.9h-3.3zM1159 859.4h3.3v52.1h-3.3zM1162 859.9h3.3v60h-3.3zM1165 858h3.3v69.8h-3.3zM1168 839.9h3.3v66.9h-3.3zM1171 855.3h3.3v73.3h-3.3zM1174 840.8h3.3v70.9h-3.3zM1177 839.6h3.3v80.6h-3.3zM1180 834h3.3v76.2h-3.3zM1183 853.6h3.3v48.4h-3.3zM1186 845.6h3.3v70.7h-3.3zM1189 847.5h3.3v58.2h-3.3zM1192 833.6h3.3v96.6h-3.3zM1195 851.6h3.3v51.9h-3.3zM1198 853.6h3.3v51.5h-3.3zM1201 864.4h3.3v63.4h-3.3zM1204 883.4h3.3v91.2h-3.3zM1207 903.5h3.3v125h-3.3zM1210 899.1h3.3v127.3h-3.3zM1213 903.6h3.3v108.1h-3.3zM1216 892.3h3.3v119.6h-3.3zM1219 919.8h3.3v121.7h-3.3zM1222 925h3.3v103h-3.3zM1225 907h3.3v121.8h-3.3zM1228 938.1h3.3v93.5h-3.3zM1231 940.3h3.3v98.1h-3.3zM1234 951.8h3.3v109.9h-3.3zM1237 945.1h3.3v106.1h-3.3zM1240 941.3h3.3v118.4h-3.3zM1243 943.4h3.3v121.2h-3.3zM1246 962.7h3.3v97.3h-3.3zM1249 962.2h3.3v106.6h-3.3zM1252 950.7h3.3v118.9h-3.3zM1255 964.7h3.3v122.8h-3.3zM1258 945.6h3.3v152.4h-3.3zM1261 971.6h3.3v119.3h-3.3zM1264 952.8h3.3v122.3h-3.3zM1267 965.6h3.3v121.3h-3.3zM1270 955.4h3.3v155.4h-3.3zM1273 976.6h3.3v152.6h-3.3zM1276 997.2h3.3v124.5h-3.3zM1279 999.9h3.3v123.4h-3.3zM1282 1009.5h3.3v133.1h-3.3zM1285 1014h3.3v126.1h-3.3zM1288 1014.2h3.3v142.6h-3.3zM1291 1016.7h3.3v249.3h-3.3zM1294 1034.2h3.3v138h-3.3zM1297 1039.9h3.3v162.1h-3.3zM1300 1050.5h3.3v165.2h-3.3zM1303 1057.9h3.3v152.3h-3.3zM1306 1076.3h3.3v152h-3.3zM1309 1079h3.3v160.4h-3.3zM1309 1093.3h3.3v231.7h-3.3zM1312 1088.9h3.3v236.1h-3.3zM1315 1111.4h3.3v213.6h-3.3zM1318 1091.2h3.3v233.8h-3.3zM1321 1107.3h3.3v217.7h-3.3zM1324 1103.2h3.3v221.8h-3.3zM1327 1117.4h3.3v207.6h-3.3zM1330 1117.2h3.3v207.8h-3.3zM1333 1134.8h3.3v190.2h-3.3zM1336 1116.3h3.3v208.7h-3.3zM1310.8 1325h2.4v91h-2.4zM1316.3 1325h2.4v91h-2.4zM1321.3 1325h2.4v91h-2.4zM1327.8 1325h2.4v91h-2.4zM1334.3 1325h2.4v91h-2.4zM1338 1146.3h3.3v283.7h-3.3zM1341 1140.1h3.3v289.9h-3.3zM1344 1113h3.3v317h-3.3zM1347 1159.6h3.3v270.4h-3.3zM1350 1152.7h3.3v277.3h-3.3zM1353 1180h3.3v250h-3.3zM1356 1180h3.3v250h-3.3zM1359 1180h3.3v250h-3.3zM1362 1180h3.3v250h-3.3zM1365 1180h3.3v250h-3.3zM1368 1141h3.3v289h-3.3zM1371 1180h3.3v250h-3.3zM1374 1180h3.3v250h-3.3zM1377 1180h3.3v250h-3.3zM1380 1203.9h3.3v226.1h-3.3zM1383 1180h3.3v250h-3.3zM1386 1180h3.3v250h-3.3zM1389 1203.9h3.3v226.1h-3.3zM1392 1203.9h3.3v226.1h-3.3zM1395 1203.9h3.3v226.1h-3.3zM1398 1203.9h3.3v226.1h-3.3zM1401 1146h3.3v284h-3.3zM1404 1134h3.3v296h-3.3zM1402.3 1099h3v101h-3zM1404.5 1150h7v176h-7zM1409 1124h3v202h-3zM1419 1322.8h157v107.2h-157zM1426.2 1269.7h3.6v54.1h-3.6zM1439.2 1269.7h3.6v54.1h-3.6zM1454.2 1269.7h3.6v54.1h-3.6zM1462.2 1269.7h3.6v54.1h-3.6zM1473.7 1269.7h3.6v54.1h-3.6zM1485.2 1269.7h3.6v54.1h-3.6zM1525.2 1269.7h3.6v54.1h-3.6zM1562.2 1269.7h3.6v54.1h-3.6zM1571.2 1269.7h3.6v54.1h-3.6zM1500 1269.7h9v54.1h-9zM1549 1269.7h9v54.1h-9zM1422.3 1232.1h3.4v91.7h-3.4zM1500.8 1232.1h3.4v91.7h-3.4zM1507.3 1232.1h3.4v91.7h-3.4zM1512.3 1232.1h3.4v91.7h-3.4zM1576 1413h134.6v17h-134.6zM1718 1413h9v17h-9zM1740 1413h23v17h-23zM1779 1413h11v17h-11zM1793 1413h9v17h-9zM1848 1413h10.6v17h-10.6zM1863 1413h14v17h-14zM1897 1413h10v17h-10zM1910 1413h10v17h-10zM1925 1413h9v17h-9zM1945.8 1413h5.8v17h-5.8zM1961 1413h8v17h-8zM1971.8 1413h16.2v17h-16.2zM1990 1413h15.6v17h-15.6zM2017 1413h23v17h-23zM2054 1413h9.5v17h-9.5zM2066 1413h6v17h-6zM2110 1413h5.6v17h-5.6zM2140.7 1413h8.7v17h-8.7zM2163 1413h13.4v17h-13.4zM2182 1413h5v17h-5zM2192 1413h4.7v17h-4.7zM2216 1413h12.5v17h-12.5zM2241 1413h4v17h-4zM2264 1413h4v17h-4zM2286.5 1413h3.5v17h-3.5zM2306.7 1413h7.7v17h-7.7zM2318 1413h13v17h-13zM1731 1413h2.4v17h-2.4zM1736 1413h2.4v17h-2.4zM1806 1413h2.4v17h-2.4zM1811 1413h2.4v17h-2.4zM1819 1413h2.4v17h-2.4zM1824 1413h2.4v17h-2.4zM1829 1413h2.4v17h-2.4zM1882 1413h2.4v17h-2.4zM1887 1413h2.4v17h-2.4zM1892 1413h2.4v17h-2.4zM2077 1413h2.4v17h-2.4zM2083 1413h2.4v17h-2.4zM2089 1413h2.4v17h-2.4zM2095 1413h2.4v17h-2.4zM2101 1413h2.4v17h-2.4zM1587.1 1322.8h3.8v107.2h-3.8zM1620.1 1322.8h3.8v107.2h-3.8zM1643.1 1269.7h3.8v160.3h-3.8zM1649.5 1322.8h3.8v107.2h-3.8zM1701.1 1322.8h3.8v107.2h-3.8zM1708.7 1322.8h3.8v107.2h-3.8zM1834.3 1322.8h3.8v107.2h-3.8zM1874.1 1322.8h3.8v107.2h-3.8zM1932.6 1322.8h3.8v107.2h-3.8zM2007.2 1322.8h3.8v107.2h-3.8zM2052.4 1322.8h3.8v107.2h-3.8zM1570 1322.8h10.6v107.2h-10.6zM1585 1375h5v55h-5zM1637 1348h7v82h-7zM1721.5 1269.7h6.5v160.3h-6.5zM1832 1375h5v55h-5z"/>
</g>
<g fill="#fff">
<rect x="1477" y="1323.8" width="2.2" height="52.2"/>
<rect x="1540" y="1323.8" width="2.2" height="89.2"/>
<rect x="1566" y="1323.8" width="2.2" height="89.2"/>
<rect x="1581.5" y="1323.8" width="2.2" height="89.2"/>
<rect x="1345" y="1418" width="5" height="7.5"/>
<rect x="1355.5" y="1418" width="5" height="7.5"/>
<rect x="1372" y="1418" width="5" height="7.5"/>
<rect x="1387" y="1418" width="5" height="7.5"/>
</g>
<rect x="318.6" y="532.5" width="5.6" height="136.5" fill="#c44a4a"/>
<rect x="316" y="578" width="5.6" height="90" fill="#8b0000"/>
<rect x="328.6" y="584.5" width="4.8" height="92.5" fill="#c44a4a"/>
<rect x="332" y="634" width="4.8" height="44" fill="#8b0000"/>
<rect x="274" y="655" width="3" height="9" fill="#c03018"/>
<rect x="517.3" y="525.4" width="5.5" height="168.6" fill="#c44a4a"/>
<rect x="508.5" y="664" width="3.5" height="12" fill="#b03030"/>
<rect x="761.5" y="613.5" width="4" height="203.5" fill="#f2c6c6"/>
<rect x="758.5" y="240.4" width="7.5" height="373.1" fill="#8b0000"/>
<rect x="757.8" y="613.5" width="3.8" height="203.5" fill="#c44a4a"/>
<rect x="765.4" y="613.5" width="3.8" height="323.5" fill="#c44a4a"/>
<rect x="754.2" y="817" width="3.8" height="60" fill="#c44a4a"/>
<rect x="1414.6" y="408.8" width="4.6" height="156.2" fill="#c44a4a"/>
<rect x="1412" y="564.3" width="7.2" height="758.2" fill="#8b0000"/>
<rect x="1412" y="1280" width="5" height="50" fill="#d06050"/>
<rect x="1331.5" y="1126" width="4.5" height="54" fill="#b01808"/>
<rect x="1331.5" y="1180" width="3.5" height="55" fill="#8b0000"/>
<rect x="1760" y="1089.6" width="6.6" height="338.4" fill="#8b0000"/>
</g>
<g fill="#000" font-family="'Liberation Sans',sans-serif" font-weight="bold">
<text x="690.4" y="205.2" font-size="37.5" textLength="142" lengthAdjust="spacingAndGlyphs">511 keV</text>
<text x="451.2" y="424.1" font-size="37" textLength="77.5" lengthAdjust="spacingAndGlyphs">44M</text>
<text x="528.6" y="444.3" font-size="58" textLength="56.5" lengthAdjust="spacingAndGlyphs">Sc</text>
<text x="430.2" y="499.5" font-size="37.5" textLength="175.5" lengthAdjust="spacingAndGlyphs">271.2 keV</text>
<text x="1364.7" y="298.8" font-size="37" textLength="41" lengthAdjust="spacingAndGlyphs">44</text>
<text x="1406.8" y="318.8" font-size="58" textLength="56.5" lengthAdjust="spacingAndGlyphs">Sc</text>
<text x="1332.2" y="373.5" font-size="37.5" textLength="165" lengthAdjust="spacingAndGlyphs">1157 keV</text>
<text x="1710.6" y="977.6" font-size="37" textLength="41" lengthAdjust="spacingAndGlyphs">44</text>
<text x="1752.7" y="998.2" font-size="58" textLength="56" lengthAdjust="spacingAndGlyphs">Sc</text>
<text x="1662" y="1052.9" font-size="37.5" textLength="197.5" lengthAdjust="spacingAndGlyphs">1499.5 keV</text>
</g>
<path fill="#161616" fill-rule="evenodd" d="M58 29.7H2371V1529.6H58Z M65 37H2361V1521.8H65Z"/>
</svg>
</body></html>
